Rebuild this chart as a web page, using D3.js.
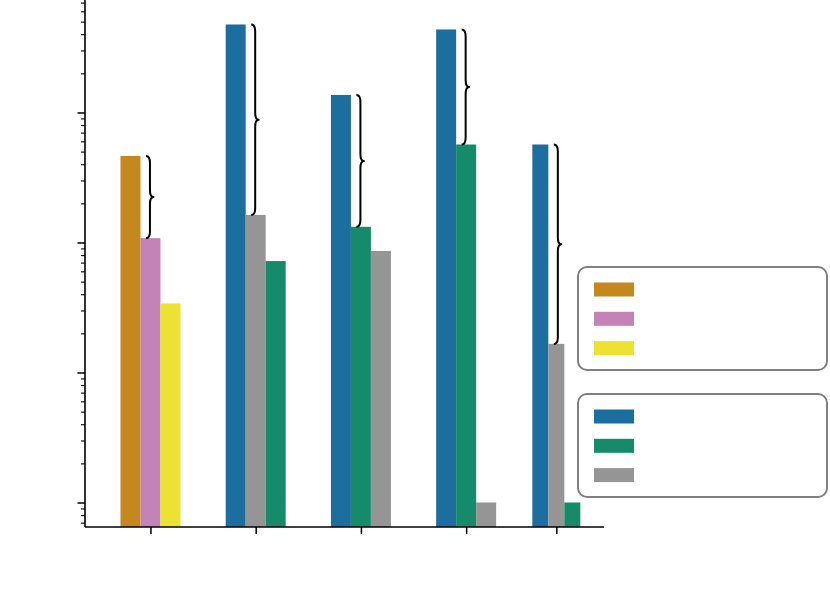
<!DOCTYPE html>
<html>
<head>
<meta charset="utf-8">
<script src="https://cdn.jsdelivr.net/npm/d3@7"></script>
<style>
  html, body { margin: 0; padding: 0; background: #ffffff; }
  svg { display: block; }
</style>
</head>
<body>
<svg id="chart" width="830" height="597"></svg>
<script>
// ---------------- DATA ----------------
const categories = ["Group 1", "Group 2", "Group 3", "Group 4", "Group 5"];
const seriesNames = ["Series A", "Series B", "Series C", "Series D", "Series E", "Series F"];
const valuesA = [463, null, null, null, null];
const valuesB = [108, null, null, null, null];
const valuesC = [34, null, null, null, null];
const valuesD = [null, 4750, 1364, 4350, 567];
const valuesE = [null, 72, 132, 567, 1];
const valuesF = [null, 163, 86, 1, 16.6];
const legendGroup1 = ["Series A", "Series B", "Series C"];
const legendGroup2 = ["Series D", "Series E", "Series F"];
const yTickValues = [0.7, 0.8, 0.9, 1, 2, 3, 4, 5, 6, 7, 8, 9, 10, 20, 30, 40, 50, 60, 70, 80, 90,
  100, 200, 300, 400, 500, 600, 700, 800, 900, 1000, 2000, 3000, 4000, 5000, 6000, 7000];

// ---------------- LAYOUT / STYLE ----------------
const seriesColors = {
  "Series A": "#c5881f", "Series B": "#c383b6", "Series C": "#ede132",
  "Series D": "#1b6e9e", "Series E": "#168b6a", "Series F": "#959595"
};
const groupPos = [0, 1, 2, 3, 3.857];      // x positions on linear axis
const groupBarWidth = [0.19, 0.19, 0.19, 0.19, 0.152];

const svg = d3.select("#chart");
const plot = { left: 85, right: 604, top: 0, bottom: 527 };

const x = d3.scaleLinear().domain([-0.622, 4.31]).range([plot.left, plot.right]);
const y = d3.scaleLog().domain([0.648, 7330]).range([plot.bottom, plot.top]);

const allValues = [valuesA, valuesB, valuesC, valuesD, valuesE, valuesF];

categories.forEach((cat, gi) => {
  const items = seriesNames
    .map((s, si) => ({ s, v: allValues[si][gi] }))
    .filter(d => d.v != null)
    .sort((a, b) => b.v - a.v);
  const w = groupBarWidth[gi];
  const n = items.length;
  const g = svg.append("g").attr("class", "group");
  items.forEach((d, i) => {
    const x0 = groupPos[gi] - (n * w) / 2 + i * w;
    g.append("rect")
      .attr("x", x(x0))
      .attr("width", x(x0 + w) - x(x0))
      .attr("y", y(d.v))
      .attr("height", plot.bottom - y(d.v))
      .attr("fill", seriesColors[d.s]);
  });
  // brace between the two tallest bars
  if (n >= 2) {
    const xe = x(groupPos[gi] - (n * w) / 2 + w);
    const y1 = y(items[0].v), y2 = y(items[1].v);
    const xa = xe + 5.5, xb = xe + 9.5, xc = xe + 13;
    const ym = (y1 + y2) / 2;
    const r = Math.min(7, (y2 - y1) / 6);
    const p = `M${xa},${y1} Q${xb},${y1} ${xb},${y1 + r} L${xb},${ym - r} Q${xb},${ym} ${xc},${ym} ` +
              `Q${xb},${ym} ${xb},${ym + r} L${xb},${y2 - r} Q${xb},${y2} ${xa},${y2}`;
    g.append("path").attr("d", p).attr("fill", "none")
      .attr("stroke", "#000").attr("stroke-width", 2).attr("stroke-linejoin", "round");
  }
});

// ---------------- AXES ----------------
const isMajor = v => Math.abs(Math.log10(v) - Math.round(Math.log10(v))) < 1e-9;

const yAxis = d3.axisLeft(y).tickValues(yTickValues).tickFormat("").tickSizeOuter(0);
const yg = svg.append("g").attr("transform", `translate(${plot.left},0)`).call(yAxis);
yg.select(".domain").attr("stroke", "#000").attr("stroke-width", 1.6)
  .attr("d", `M0,${plot.top}V${plot.bottom}`);
yg.selectAll(".tick line")
  .attr("stroke", "#000")
  .attr("x2", d => isMajor(d) ? -7.5 : -4)
  .attr("stroke-width", d => isMajor(d) ? 1.5 : 1.1);

const xAxis = d3.axisBottom(x).tickValues(groupPos).tickFormat("").tickSize(7).tickSizeOuter(0);
const xg = svg.append("g").attr("transform", `translate(0,${plot.bottom})`).call(xAxis);
xg.select(".domain").attr("stroke", "#000").attr("stroke-width", 1.6)
  .attr("d", `M${plot.left},0H${plot.right}`);
xg.selectAll(".tick line").attr("stroke", "#000").attr("stroke-width", 1.5);

// ---------------- LEGENDS ----------------
function drawLegend(names, top) {
  const lg = svg.append("g");
  lg.append("rect")
    .attr("x", 578).attr("y", top).attr("width", 249).attr("height", 103)
    .attr("rx", 9).attr("ry", 9)
    .attr("fill", "#fff").attr("stroke", "#808080").attr("stroke-width", 2);
  names.forEach((nm, i) => {
    lg.append("rect")
      .attr("x", 594).attr("y", top + 15.5 + i * 29.3)
      .attr("width", 40).attr("height", 14)
      .attr("fill", seriesColors[nm]);
  });
}
drawLegend(legendGroup1, 267);
drawLegend(legendGroup2, 394);
</script>
</body>
</html>
